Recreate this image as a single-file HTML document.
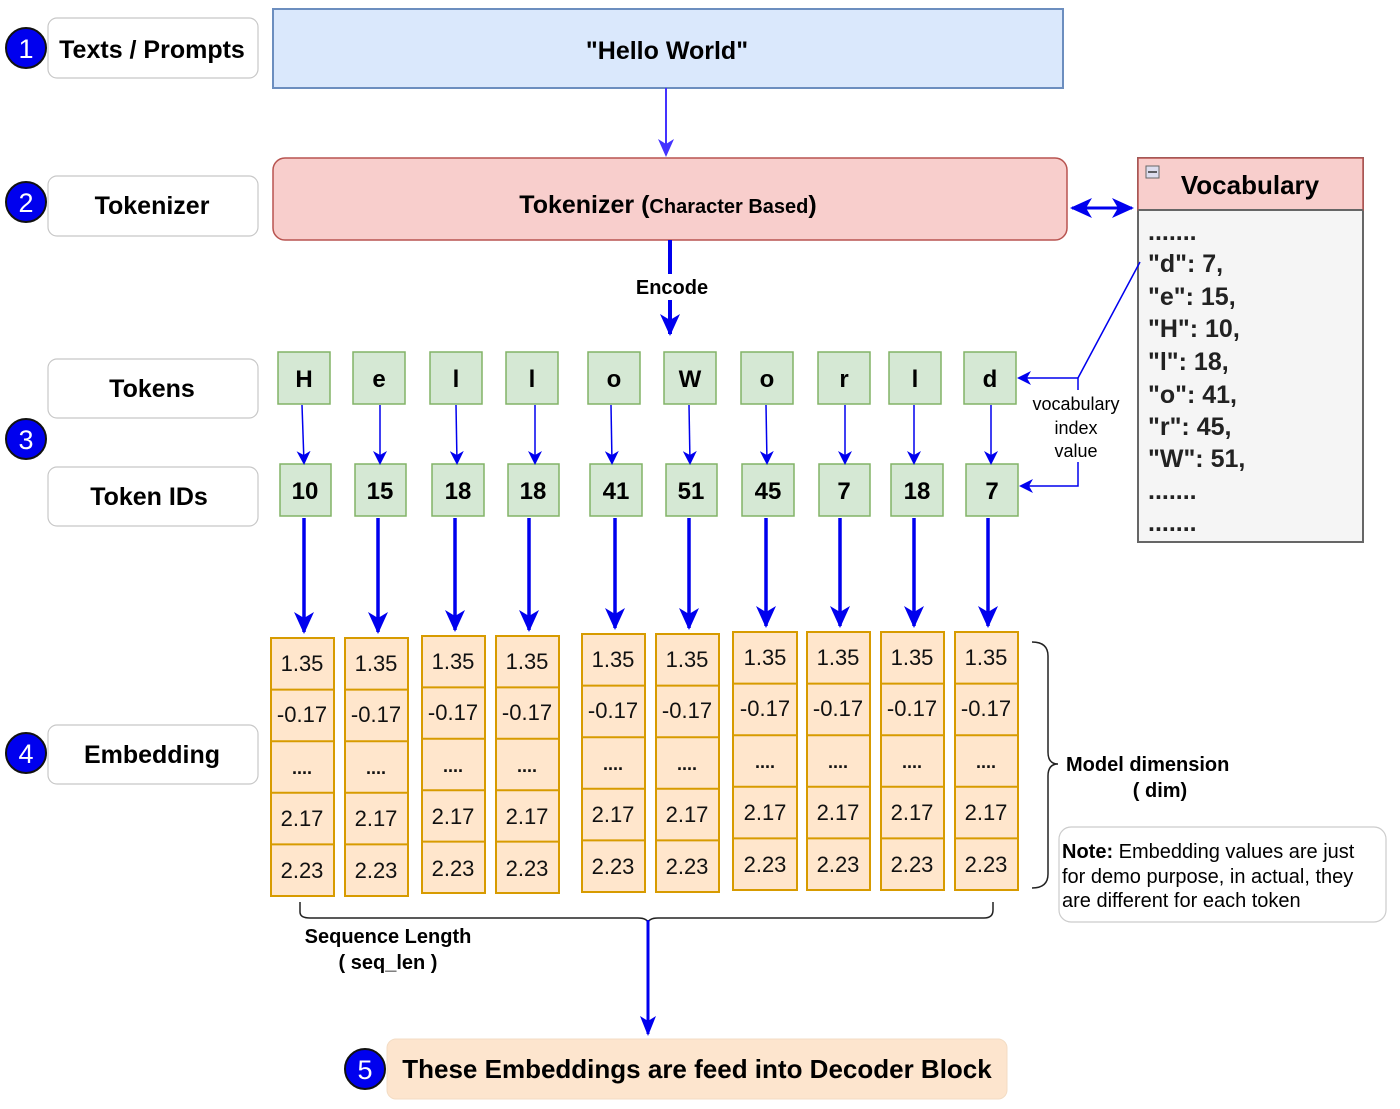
<!DOCTYPE html>
<html><head><meta charset="utf-8"><style>
html,body{margin:0;padding:0;background:#fff;}
svg{display:block;font-family:"Liberation Sans",Arial,sans-serif;}
</style></head><body>
<svg width="1400" height="1109" viewBox="0 0 1400 1109" xmlns="http://www.w3.org/2000/svg">
<defs>
<marker id="ah" markerWidth="10" markerHeight="10" refX="8" refY="5" orient="auto" markerUnits="userSpaceOnUse" viewBox="0 0 10 10">
<path d="M0,0 L10,5 L0,10 L3,5 Z" fill="#0000ee"/></marker>
<marker id="ahs" markerWidth="14" markerHeight="14" refX="12" refY="7" orient="auto" markerUnits="userSpaceOnUse" viewBox="0 0 14 14">
<path d="M0,0 L14,7 L0,14 L4,7 Z" fill="#0000ee"/></marker>
<marker id="ahp" markerWidth="18" markerHeight="18" refX="16" refY="9" orient="auto" markerUnits="userSpaceOnUse" viewBox="0 0 18 18">
<path d="M0,1 L18,9 L0,17 L5,9 Z" fill="#4433ff"/></marker>
<marker id="ahb" markerWidth="22" markerHeight="22" refX="20" refY="11" orient="auto" markerUnits="userSpaceOnUse" viewBox="0 0 22 22">
<path d="M0,1 L22,11 L0,21 L6,11 Z" fill="#0000ee"/></marker>
<marker id="ahbs" markerWidth="22" markerHeight="22" refX="2" refY="11" orient="auto" markerUnits="userSpaceOnUse" viewBox="0 0 22 22">
<path d="M22,1 L0,11 L22,21 L16,11 Z" fill="#0000ee"/></marker>
<marker id="ahm" markerWidth="20" markerHeight="20" refX="18" refY="10" orient="auto" markerUnits="userSpaceOnUse" viewBox="0 0 20 20">
<path d="M0,2 L20,10 L0,18 L5,10 Z" fill="#0000ee"/></marker>
</defs>

<g fill="#fff" stroke="#c8c8c8" stroke-width="1.2">
<rect x="48" y="18" width="210" height="60" rx="9"/>
<rect x="48" y="176" width="210" height="60" rx="9"/>
<rect x="48" y="359" width="210" height="59" rx="9"/>
<rect x="48" y="467" width="210" height="59" rx="9"/>
<rect x="48" y="725" width="210" height="59" rx="9"/>
</g>
<g font-weight="bold" font-size="25" text-anchor="middle" fill="#000">
<text x="152" y="58">Texts / Prompts</text>
<text x="152" y="214">Tokenizer</text>
<text x="152" y="397">Tokens</text>
<text x="149" y="505">Token IDs</text>
<text x="152" y="763">Embedding</text>
</g>
<g fill="#0000ee" stroke="#111" stroke-width="2">
<circle cx="26" cy="48" r="20"/><circle cx="26" cy="202" r="20"/><circle cx="26" cy="439" r="20"/><circle cx="26" cy="753" r="20"/>
</g>
<g fill="#fff" font-size="27" text-anchor="middle">
<text x="26" y="58">1</text><text x="26" y="212">2</text><text x="26" y="449">3</text><text x="26" y="763">4</text>
</g>

<rect x="273" y="9" width="790" height="79" fill="#dae8fc" stroke="#6c8ebf" stroke-width="2"/>
<text x="667" y="59" font-size="25" font-weight="bold" text-anchor="middle">"Hello World"</text>
<line x1="666" y1="88" x2="666" y2="155" stroke="#4433ff" stroke-width="2" marker-end="url(#ahp)"/>

<rect x="273" y="158" width="794" height="82" rx="12" fill="#f8cecc" stroke="#b85450" stroke-width="1.5"/>
<text x="668" y="213" font-size="25" font-weight="bold" text-anchor="middle">Tokenizer (<tspan font-size="20">Character Based</tspan>)</text>

<line x1="1072" y1="208" x2="1132" y2="208" stroke="#0000ee" stroke-width="3" marker-end="url(#ahb)" marker-start="url(#ahbs)"/>

<rect x="1138" y="158" width="225" height="384" fill="#f5f5f5" stroke="#666" stroke-width="2"/>
<rect x="1138" y="158" width="225" height="52" fill="#f8cecc" stroke="#b85450" stroke-width="1.5"/>
<line x1="1138" y1="210" x2="1363" y2="210" stroke="#666" stroke-width="2"/>
<rect x="1146" y="166" width="13" height="12" fill="#dde" stroke="#666" stroke-width="1"/>
<line x1="1148" y1="172" x2="1157" y2="172" stroke="#333" stroke-width="1.5"/>
<text x="1250" y="194" font-size="26" font-weight="bold" text-anchor="middle">Vocabulary</text>
<g font-size="25" font-weight="bold" fill="#222">
<text x="1148" y="240">.......</text>
<text x="1148" y="272">"d": 7,</text>
<text x="1148" y="305">"e": 15,</text>
<text x="1148" y="337">"H": 10,</text>
<text x="1148" y="370">"l": 18,</text>
<text x="1148" y="403">"o": 41,</text>
<text x="1148" y="435">"r": 45,</text>
<text x="1148" y="467">"W": 51,</text>
<text x="1148" y="499">.......</text>
<text x="1148" y="531">.......</text>
</g>

<path d="M1140,262 L1078,378 L1078,390" fill="none" stroke="#0000ee" stroke-width="1.5"/>
<line x1="1078" y1="378" x2="1019" y2="378" stroke="#0000ee" stroke-width="1.5" marker-end="url(#ahs)"/>
<path d="M1078,462 L1078,486 L1021,486" fill="none" stroke="#0000ee" stroke-width="1.5" marker-end="url(#ahs)"/>
<g font-size="18" text-anchor="middle"><text x="1076" y="410">vocabulary</text><text x="1076" y="434">index</text><text x="1076" y="457">value</text></g>

<line x1="670" y1="240" x2="670" y2="274" stroke="#0000ee" stroke-width="4"/>
<text x="672" y="294" font-size="20" font-weight="bold" text-anchor="middle">Encode</text>
<line x1="670" y1="300" x2="670" y2="334" stroke="#0000ee" stroke-width="4" marker-end="url(#ahb)"/>

<g fill="#d5e8d4" stroke="#82b366" stroke-width="1.5">
<rect x="278" y="352" width="52" height="52"/><rect x="353" y="352" width="52" height="52"/><rect x="430" y="352" width="52" height="52"/><rect x="506" y="352" width="52" height="52"/><rect x="588" y="352" width="52" height="52"/><rect x="664" y="352" width="52" height="52"/><rect x="741" y="352" width="52" height="52"/><rect x="818" y="352" width="52" height="52"/><rect x="889" y="352" width="52" height="52"/><rect x="964" y="352" width="52" height="52"/>
<rect x="280" y="464" width="51" height="52"/><rect x="355" y="464" width="51" height="52"/><rect x="432" y="464" width="52" height="52"/><rect x="508" y="464" width="51" height="52"/><rect x="590" y="464" width="52" height="52"/><rect x="666" y="464" width="51" height="52"/><rect x="742" y="464" width="52" height="52"/><rect x="819" y="464" width="51" height="52"/><rect x="891" y="464" width="52" height="52"/><rect x="966" y="464" width="52" height="52"/>
</g>
<g font-size="24" font-weight="bold" text-anchor="middle">
<text x="304" y="387">H</text><text x="379" y="387">e</text><text x="456" y="387">l</text><text x="532" y="387">l</text><text x="614" y="387">o</text><text x="690" y="387">W</text><text x="767" y="387">o</text><text x="844" y="387">r</text><text x="915" y="387">l</text><text x="990" y="387">d</text>
<text x="305" y="499">10</text><text x="380" y="499">15</text><text x="458" y="499">18</text><text x="533" y="499">18</text><text x="616" y="499">41</text><text x="691" y="499">51</text><text x="768" y="499">45</text><text x="844" y="499">7</text><text x="917" y="499">18</text><text x="992" y="499">7</text>
</g>
<g stroke="#0000ee" stroke-width="1.5" marker-end="url(#ahs)">
<line x1="302" y1="405" x2="304" y2="463"/><line x1="380" y1="405" x2="380" y2="463"/><line x1="456" y1="405" x2="457" y2="463"/><line x1="535" y1="405" x2="535" y2="463"/><line x1="611" y1="405" x2="612" y2="463"/><line x1="689" y1="405" x2="690" y2="463"/><line x1="766" y1="405" x2="767" y2="463"/><line x1="845" y1="405" x2="845" y2="463"/><line x1="914" y1="405" x2="914" y2="463"/><line x1="991" y1="405" x2="991" y2="463"/>
</g>
<g stroke="#0000ee" stroke-width="3.5" marker-end="url(#ahb)">
<line x1="304" y1="518" x2="304" y2="632"/><line x1="378" y1="518" x2="378" y2="632"/><line x1="455" y1="518" x2="455" y2="630"/><line x1="529" y1="518" x2="529" y2="630"/><line x1="615" y1="518" x2="615" y2="628"/><line x1="689" y1="518" x2="689" y2="628"/><line x1="766" y1="518" x2="766" y2="626"/><line x1="840" y1="518" x2="840" y2="626"/><line x1="914" y1="518" x2="914" y2="626"/><line x1="988" y1="518" x2="988" y2="626"/>
</g>

<g fill="#ffe6cc" stroke="#d79b00" stroke-width="2">
<path d="M271,638h63v258h-63z M271,689.6h63 M271,741.2h63 M271,792.8h63 M271,844.4h63"/>
<path d="M345,638h63v258h-63z M345,689.6h63 M345,741.2h63 M345,792.8h63 M345,844.4h63"/>
<path d="M422,636h63v257h-63z M422,687.4h63 M422,738.8h63 M422,790.2h63 M422,841.6h63"/>
<path d="M496,636h63v257h-63z M496,687.4h63 M496,738.8h63 M496,790.2h63 M496,841.6h63"/>
<path d="M582,634h63v258h-63z M582,685.6h63 M582,737.2h63 M582,788.8h63 M582,840.4h63"/>
<path d="M656,634h63v258h-63z M656,685.6h63 M656,737.2h63 M656,788.8h63 M656,840.4h63"/>
<path d="M733,632h64v258h-64z M733,683.6h64 M733,735.2h64 M733,786.8h64 M733,838.4h64"/>
<path d="M807,632h63v258h-63z M807,683.6h63 M807,735.2h63 M807,786.8h63 M807,838.4h63"/>
<path d="M881,632h63v258h-63z M881,683.6h63 M881,735.2h63 M881,786.8h63 M881,838.4h63"/>
<path d="M955,632h63v258h-63z M955,683.6h63 M955,735.2h63 M955,786.8h63 M955,838.4h63"/>
</g>
<g font-size="22" text-anchor="middle" fill="#111">
<g transform="translate(302,638)"><text y="33">1.35</text><text y="84">-0.17</text><text y="136" font-weight="bold" font-size="18">....</text><text y="188">2.17</text><text y="240">2.23</text></g>
<g transform="translate(376,638)"><text y="33">1.35</text><text y="84">-0.17</text><text y="136" font-weight="bold" font-size="18">....</text><text y="188">2.17</text><text y="240">2.23</text></g>
<g transform="translate(453,636)"><text y="33">1.35</text><text y="84">-0.17</text><text y="136" font-weight="bold" font-size="18">....</text><text y="188">2.17</text><text y="240">2.23</text></g>
<g transform="translate(527,636)"><text y="33">1.35</text><text y="84">-0.17</text><text y="136" font-weight="bold" font-size="18">....</text><text y="188">2.17</text><text y="240">2.23</text></g>
<g transform="translate(613,634)"><text y="33">1.35</text><text y="84">-0.17</text><text y="136" font-weight="bold" font-size="18">....</text><text y="188">2.17</text><text y="240">2.23</text></g>
<g transform="translate(687,634)"><text y="33">1.35</text><text y="84">-0.17</text><text y="136" font-weight="bold" font-size="18">....</text><text y="188">2.17</text><text y="240">2.23</text></g>
<g transform="translate(765,632)"><text y="33">1.35</text><text y="84">-0.17</text><text y="136" font-weight="bold" font-size="18">....</text><text y="188">2.17</text><text y="240">2.23</text></g>
<g transform="translate(838,632)"><text y="33">1.35</text><text y="84">-0.17</text><text y="136" font-weight="bold" font-size="18">....</text><text y="188">2.17</text><text y="240">2.23</text></g>
<g transform="translate(912,632)"><text y="33">1.35</text><text y="84">-0.17</text><text y="136" font-weight="bold" font-size="18">....</text><text y="188">2.17</text><text y="240">2.23</text></g>
<g transform="translate(986,632)"><text y="33">1.35</text><text y="84">-0.17</text><text y="136" font-weight="bold" font-size="18">....</text><text y="188">2.17</text><text y="240">2.23</text></g>
</g>

<path d="M1032,642 Q1048,642 1048,656 L1048,752 Q1048,764 1058,764 Q1048,764 1048,776 L1048,874 Q1048,888 1032,888" fill="none" stroke="#222" stroke-width="1.5"/>
<text x="1066" y="771" font-size="20" font-weight="bold">Model dimension</text>
<text x="1160" y="797" font-size="20" font-weight="bold" text-anchor="middle">( dim)</text>

<rect x="1059" y="827" width="327" height="95" rx="12" fill="#fff" stroke="#ccc" stroke-width="1.2"/>
<g font-size="20"><text x="1062" y="858"><tspan font-weight="bold">Note:</tspan> Embedding values are just</text><text x="1062" y="883">for demo purpose, in actual, they</text><text x="1062" y="907">are different for each token</text></g>

<path d="M300,902 L300,912 Q300,918 310,918 L638,918 Q648,918 648,924 Q648,918 658,918 L984,918 Q993,918 993,910 L993,902" fill="none" stroke="#222" stroke-width="1.5"/>
<text x="388" y="943" font-size="20" font-weight="bold" text-anchor="middle">Sequence Length</text>
<text x="388" y="969" font-size="20" font-weight="bold" text-anchor="middle">( seq_len )</text>
<line x1="648" y1="920" x2="648" y2="1034" stroke="#0000ee" stroke-width="3" marker-end="url(#ahm)"/>

<rect x="387" y="1039" width="620" height="60" rx="9" fill="#fde5ce" stroke="#f3dcc4" stroke-width="1"/>
<circle cx="365" cy="1069" r="20" fill="#0000ee" stroke="#111" stroke-width="2"/>
<text x="365" y="1079" fill="#fff" font-size="27" text-anchor="middle">5</text>
<text x="697" y="1078" font-size="26" font-weight="bold" text-anchor="middle">These Embeddings are feed into Decoder Block</text>
</svg>
</body></html>
